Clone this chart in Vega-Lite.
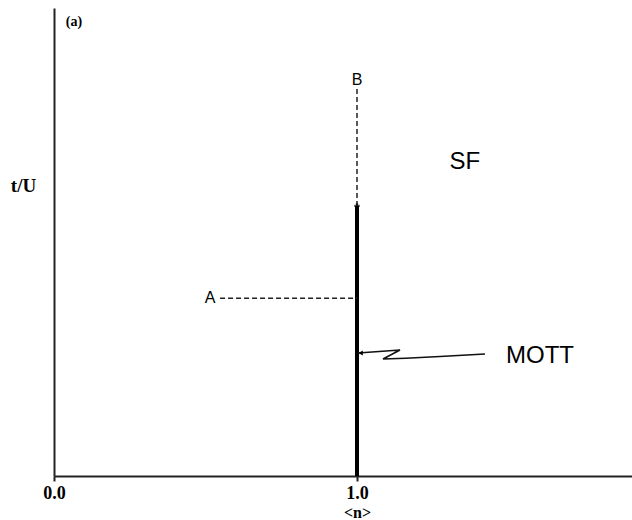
{
  "$schema": "https://vega.github.io/schema/vega-lite/v6.json",
  "autosize": "none",
  "width": 578,
  "height": 468,
  "padding": {"left": 54, "top": 8, "right": 0, "bottom": 44},
  "background": "white",
  "config": {"view": {"stroke": null}},
  "datasets": {
    "solid": [{"x": 1, "x2": 1, "y": 0, "y2": 0.577}],
    "dashed": [
      {"x": 1, "x2": 1, "y": 0.577, "y2": 0.829},
      {"x": 0.548, "x2": 1, "y": 0.38, "y2": 0.38}
    ],
    "arrow": [
      {"o": 1, "x": 1.4224, "y": 0.2607},
      {"o": 2, "x": 1.274, "y": 0.2553},
      {"o": 3, "x": 1.16, "y": 0.2515},
      {"o": 4, "x": 1.0858, "y": 0.25},
      {"o": 5, "x": 1.1419, "y": 0.2692},
      {"o": 6, "x": 1.0033, "y": 0.2628}
    ],
    "tip": [{"x": 1.012, "y": 0.2628}],
    "small": [
      {"label": "A", "x": 0.515, "y": 0.38},
      {"label": "B", "x": 1.0, "y": 0.846}
    ],
    "big": [
      {"label": "SF", "x": 1.356, "y": 0.671},
      {"label": "MOTT", "x": 1.604, "y": 0.256}
    ],
    "panel": [{"label": "(a)", "x": 0.066, "y": 0.97}]
  },
  "encoding": {
    "x": {
      "field": "x", "type": "quantitative",
      "scale": {"domain": [0, 1.9076], "nice": false, "zero": false},
      "axis": {
        "values": [0, 1], "format": ".1f", "grid": false, "labelFlush": false,
        "title": "<n>", "titleFont": "Liberation Serif", "titleFontWeight": "bold",
        "titleFontSize": 16, "titleColor": "black", "titleX": 303, "titleY": 36,
        "titleAlign": "center", "titleBaseline": "middle",
        "labelFont": "Liberation Serif", "labelFontWeight": "bold", "labelFontSize": 18,
        "labelColor": "black", "labelPadding": 3,
        "domainColor": "#222", "domainWidth": 2, "tickColor": "#222", "tickWidth": 2, "tickSize": 5
      }
    },
    "y": {
      "field": "y", "type": "quantitative",
      "scale": {"domain": [0, 1], "nice": false},
      "axis": {
        "values": [], "labels": false, "ticks": false, "grid": false,
        "title": "t/U", "titleAngle": 0, "titleFont": "Liberation Serif", "titleFontWeight": "bold",
        "titleFontSize": 19, "titleColor": "black", "titleX": -31, "titleY": 177,
        "titleAlign": "center", "titleBaseline": "middle",
        "domainColor": "#222", "domainWidth": 2
      }
    }
  },
  "layer": [
    {
      "data": {"name": "solid"},
      "mark": {"type": "rule", "strokeWidth": 4, "color": "black"},
      "encoding": {"x2": {"field": "x2"}, "y2": {"field": "y2"}}
    },
    {
      "data": {"name": "dashed"},
      "mark": {"type": "rule", "strokeWidth": 1.5, "color": "#222", "strokeDash": [5, 3]},
      "encoding": {"x2": {"field": "x2"}, "y2": {"field": "y2"}}
    },
    {
      "data": {"name": "solid"},
      "mark": {"type": "point", "shape": "cross", "size": 30, "filled": true, "color": "black"},
      "encoding": {"y": {"field": "y2", "type": "quantitative"}}
    },
    {
      "data": {"name": "arrow"},
      "mark": {"type": "line", "strokeWidth": 1.6, "color": "#111"},
      "encoding": {"order": {"field": "o", "type": "ordinal"}}
    },
    {
      "data": {"name": "tip"},
      "mark": {"type": "point", "shape": "triangle-left", "size": 25, "filled": true, "color": "black", "opacity": 1}
    },
    {
      "data": {"name": "small"},
      "mark": {"type": "text", "font": "Liberation Sans", "fontSize": 16, "color": "black", "align": "center", "baseline": "middle"},
      "encoding": {"text": {"field": "label"}}
    },
    {
      "data": {"name": "big"},
      "mark": {"type": "text", "font": "Liberation Sans", "fontSize": 24, "color": "black", "align": "center", "baseline": "middle"},
      "encoding": {"text": {"field": "label"}}
    },
    {
      "data": {"name": "panel"},
      "mark": {"type": "text", "font": "Liberation Serif", "fontWeight": "bold", "fontSize": 14, "color": "black", "align": "center", "baseline": "middle"},
      "encoding": {"text": {"field": "label"}}
    }
  ]
}
